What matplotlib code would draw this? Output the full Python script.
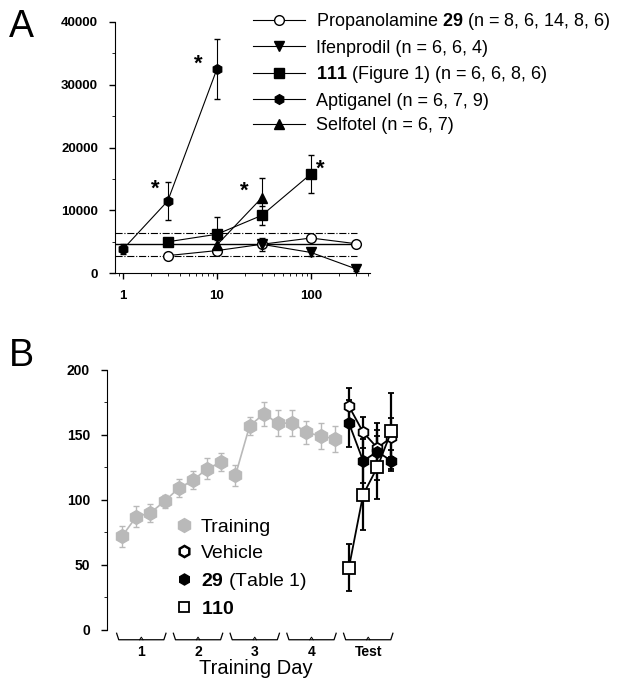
import numpy as np
import matplotlib.pyplot as plt
from matplotlib.lines import Line2D
from matplotlib.ticker import MultipleLocator

plt.rcParams['font.family'] = ['Liberation Sans', 'DejaVu Sans']
plt.rcParams['mathtext.fontset'] = 'custom'
plt.rcParams['mathtext.bf'] = 'Liberation Sans:bold'
plt.rcParams['mathtext.rm'] = 'Liberation Sans'

# ---- panel A data ----
prop_dose = [3, 10, 30, 100, 300]
prop_val = [2800, 3600, 4600, 5600, 4700]
prop_err = [400, 700, 1000, 500, 500]

ifen_dose = [30, 100, 300]
ifen_val = [4600, 3300, 700]
ifen_err = [500, 500, 400]

c111_dose = [3, 10, 30, 100]
c111_val = [5000, 6200, 9200, 15800]
c111_err = [400, 2800, 1500, 3000]

apti_dose = [1, 3, 10]
apti_val = [3800, 11500, 32500]
apti_err = [800, 3000, 4800]

self_dose = [10, 30]
self_val = [4500, 12000]
self_err = [800, 3100]

baseline = 4700
baseline_lo = 2700
baseline_hi = 6400

star_pos = [(2.2, 13300), (6.3, 33300), (19.5, 13000), (125, 16600)]

# ---- panel B data ----
train_x = np.arange(1, 17)
train_val = [72, 87, 90, 99, 109, 115, 124, 129, 119, 157, 166, 159, 159, 152, 149, 147]
train_err = [8, 8, 7, 5, 7, 7, 8, 7, 8, 7, 9, 10, 10, 9, 10, 10]

test_x = [17, 18, 19, 20]
veh_val = [172, 152, 140, 148]
veh_err = [14, 12, 14, 15]
c29_val = [159, 130, 137, 130]
c29_err = [18, 17, 22, 8]
c110_val = [48, 104, 125, 153]
c110_err = [18, 27, 24, 29]

day_labels = ['1', '2', '3', '4', 'Test']

fig = plt.figure(figsize=(6.24, 6.83), dpi=100)

# ================= A =================
axA = fig.add_axes([0.184, 0.600, 0.409, 0.368])
axA.plot([0.82, 310], [baseline] * 2, color='black', lw=1.0)
axA.plot([0.82, 310], [baseline_lo] * 2, color='black', lw=0.8, ls='-.')
axA.plot([0.82, 310], [baseline_hi] * 2, color='black', lw=0.8, ls='-.')

ek = dict(color='black', lw=0.8, capsize=2.5, elinewidth=0.8, ms=7)
hP = axA.errorbar(prop_dose, prop_val, yerr=prop_err, marker='o', mfc='white', mec='black', **ek)
hI = axA.errorbar(ifen_dose, ifen_val, yerr=ifen_err, marker='v', mfc='black', **ek)
h1 = axA.errorbar(c111_dose, c111_val, yerr=c111_err, marker='s', mfc='black', **ek)
hA = axA.errorbar(apti_dose, apti_val, yerr=apti_err, marker='h', mfc='black', **ek)
hS = axA.errorbar(self_dose, self_val, yerr=self_err, marker='^', mfc='black', **ek)

for sx, sy in star_pos:
    axA.text(sx, sy, '*', fontsize=16, fontweight='bold', ha='center', va='center')

axA.set_xscale('log')
axA.set_xlim(0.82, 425)
axA.set_ylim(0, 40000)
axA.set_xticks([1, 10, 100])
axA.set_xticklabels(['1', '10', '100'])
axA.yaxis.set_major_locator(MultipleLocator(10000))
axA.yaxis.set_minor_locator(MultipleLocator(5000))
for s in ['top', 'right']:
    axA.spines[s].set_visible(False)
axA.tick_params(labelsize=9.5, width=1, length=4, pad=8)
axA.tick_params(which='minor', length=2)
for lab in axA.get_xticklabels() + axA.get_yticklabels():
    lab.set_fontweight('bold')

leg_labels = [r'Propanolamine $\bf{29}$ (n = 8, 6, 14, 8, 6)',
              'Ifenprodil (n = 6, 6, 4)',
              r'$\bf{111}$ (Figure 1) (n = 6, 6, 8, 6)',
              'Aptiganel (n = 6, 7, 9)',
              'Selfotel (n = 6, 7)']
fig.legend([hP[0], hI[0], h1[0], hA[0], hS[0]], leg_labels, loc='upper left',
           bbox_to_anchor=(253 / 624, 1 - 11 / 683), frameon=False, fontsize=13,
           handlelength=2.9, handletextpad=0.6, labelspacing=0.42,
           borderpad=0, borderaxespad=0)

fig.text(0.015, 0.960, 'A', fontsize=27, va='center')

# ================= B =================
axB = fig.add_axes([0.171, 0.0776, 0.47, 0.381])
gray = '#b9b9b9'
tk = dict(color=gray, lw=1.2, capsize=2, elinewidth=1.0, marker='h', ms=10, mfc=gray, mec=gray)
axB.errorbar(train_x[:8], train_val[:8], yerr=train_err[:8], **tk)
axB.errorbar(train_x[8:], train_val[8:], yerr=train_err[8:], **tk)

bk = dict(color='black', lw=1.3, capsize=2, elinewidth=1.6, ms=8, mew=1.3)
axB.errorbar(test_x, veh_val, yerr=veh_err, marker='h', mfc='white', mec='black', **bk)
axB.errorbar(test_x, c29_val, yerr=c29_err, marker='h', mfc='black', mec='black', **bk)
axB.errorbar(test_x, c110_val, yerr=c110_err, marker='s', mfc='white', mec='black', **bk)

axB.set_xlim(-0.08, 20.6)
axB.set_ylim(0, 200)
axB.yaxis.set_major_locator(MultipleLocator(50))
axB.yaxis.set_minor_locator(MultipleLocator(25))
axB.set_xticks([])
for s in ['top', 'right', 'bottom']:
    axB.spines[s].set_visible(False)
axB.tick_params(labelsize=10, width=1, length=4, pad=8)
axB.tick_params(which='minor', length=2)
for lab in axB.get_yticklabels():
    lab.set_fontweight('bold')

# day brackets
for k, lab in enumerate(day_labels):
    x0 = 4 * k + 0.62
    x1 = 4 * k + 4.1
    bx = [x0, x0 + 0.15, x1 - 0.15, x1]
    by = [-2.5, -7.5, -7.5, -2.5]
    axB.plot(bx, by, color='black', lw=0.9, clip_on=False)
    axB.plot([(x0 + x1) / 2 - 0.12, (x0 + x1) / 2, (x0 + x1) / 2 + 0.12], [-7.5, -5.5, -7.5],
             color='black', lw=0.7, clip_on=False)
    axB.text((x0 + x1) / 2, -17, lab, ha='center', va='center', fontsize=10, fontweight='bold')
axB.text(10.4, -29.5, 'Training Day', ha='center', va='center', fontsize=14.5)

leg_h = [Line2D([], [], ls='none', marker='h', ms=10, mfc=gray, mec=gray),
         Line2D([], [], ls='none', marker='h', ms=8, mfc='white', mec='black', mew=1.8),
         Line2D([], [], ls='none', marker='h', ms=8, mfc='black', mec='black'),
         Line2D([], [], ls='none', marker='s', ms=7, mfc='white', mec='black', mew=1.3)]
axB.legend(leg_h, ['Training', 'Vehicle', r'$\bf{29}$ (Table 1)', r'$\bf{110}$'],
           loc='lower left', bbox_to_anchor=(0.229, 0.045), frameon=False, fontsize=14,
           handlelength=1.0, handletextpad=0.4, labelspacing=0.45,
           borderpad=0, borderaxespad=0)

fig.text(0.015, 0.479, 'B', fontsize=27, va='center')

fig.savefig('out.png', dpi=100)
